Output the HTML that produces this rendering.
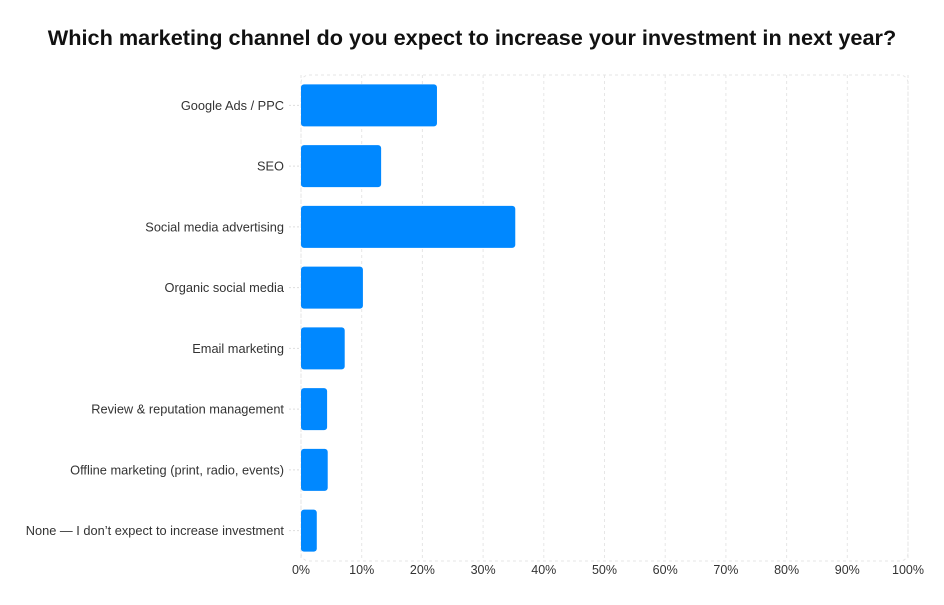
<!DOCTYPE html>
<html><head><meta charset="utf-8"><style>
body{margin:0;background:#fff;font-family:"Liberation Sans",sans-serif}
</style></head><body>
<svg id="chart" width="944" height="600" xmlns="http://www.w3.org/2000/svg">
<text x="472" y="45" text-anchor="middle" font-size="21.7" font-weight="bold" fill="#111">Which marketing channel do you expect to increase your investment in next year?</text>
<g id="grid"></g><g id="bars"></g><g id="ylabels"></g><g id="xlabels"></g>
</svg>
<script>
const categories=["Google Ads / PPC","SEO","Social media advertising","Organic social media","Email marketing","Review & reputation management","Offline marketing (print, radio, events)","None — I don’t expect to increase investment"];
const values=[22.4,13.2,35.3,10.2,7.2,4.3,4.4,2.6];
const xTicks=[0,10,20,30,40,50,60,70,80,90,100];
const L=301,R=908,T=75,B=561;
const ns="http://www.w3.org/2000/svg";
const x=v=>L+(R-L)*v/100;
const band=(B-T)/categories.length;
const y=i=>T+band*i;
function mk(t,a,p){const e=document.createElementNS(ns,t);for(const k in a)e.setAttribute(k,a[k]);p.appendChild(e);return e;}
const grid=document.getElementById('grid');
const border=mk('rect',{x:L,y:T,width:R-L,height:B-T,rx:8,fill:'none',stroke:'#e6e6e6','stroke-dasharray':'3,3'},grid);


xTicks.forEach(t=>{
  const l=mk('line',{x1:x(t),x2:x(t),y1:T,y2:B,stroke:'#e6e6e6','stroke-dasharray':'3,3'},grid);
  
  
  const tx=mk('text',{x:x(t),y:574,'text-anchor':'middle','font-size':12.5,fill:'#333'},document.getElementById('xlabels'));
  tx.textContent=t+'%';
  
  
});
categories.forEach((c,i)=>{
  const cy=y(i)+band/2;
  const bh=42;
  const r=mk('rect',{x:L,y:cy-bh/2,width:x(values[i])-L,height:bh,rx:3,fill:'#0088ff'},document.getElementById('bars'));
  
  
  const tk=mk('line',{x1:L-12,x2:L-2,y1:cy,y2:cy,stroke:'#ddd','stroke-dasharray':'2,2'},grid);
  
  
  const t=mk('text',{x:284,y:cy+4.5,'text-anchor':'end','font-size':12.8,fill:'#333'},document.getElementById('ylabels'));
  t.textContent=c;
  
  
});
</script>
</body></html>
